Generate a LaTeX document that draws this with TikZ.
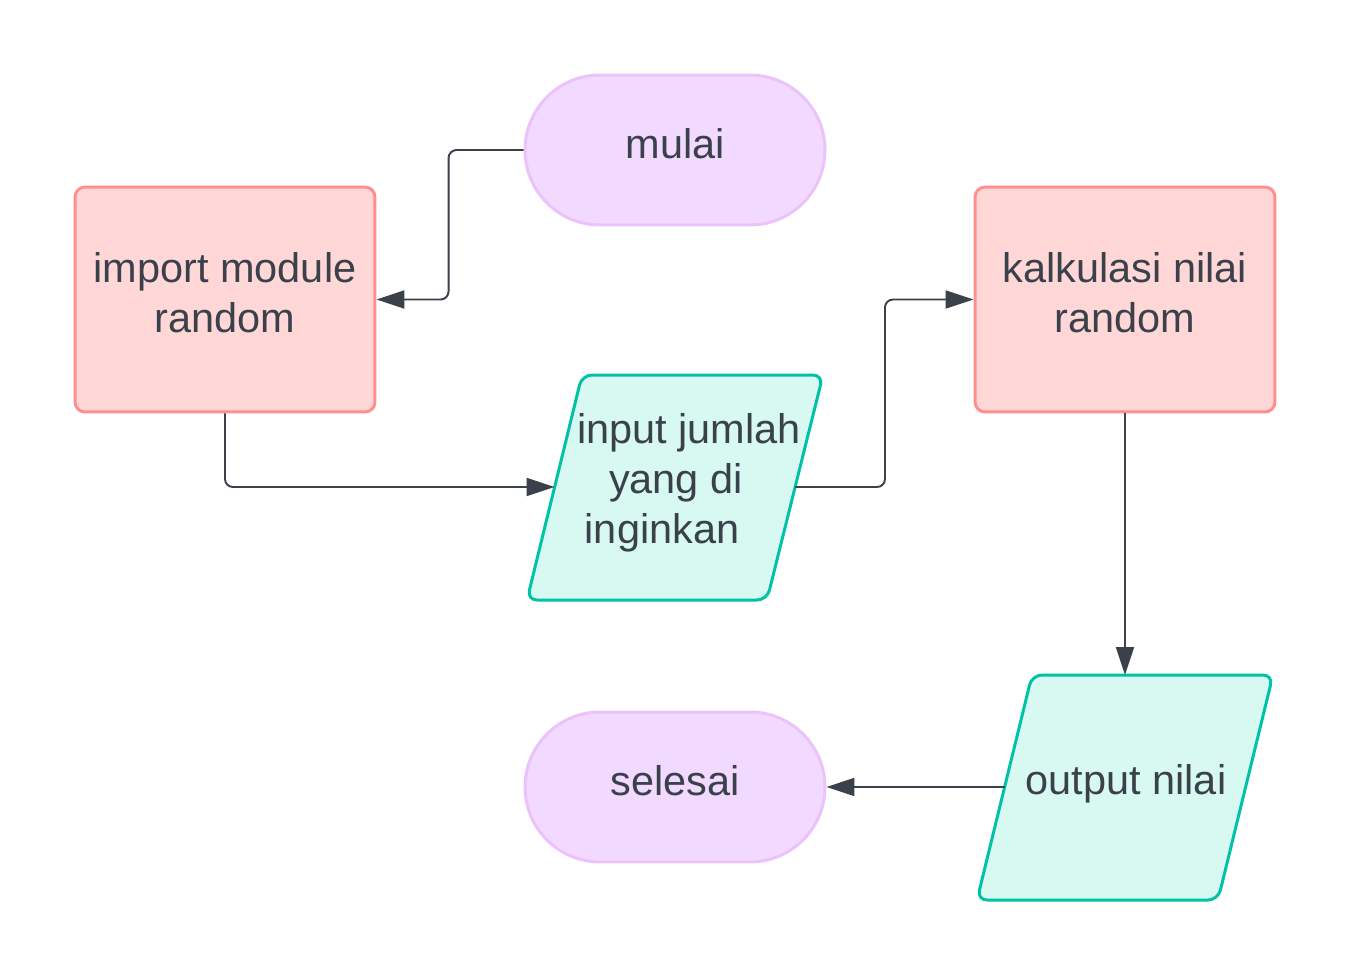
\documentclass[tikz,border=0pt]{standalone}
\usepackage{fontspec}
\setmainfont{Liberation Sans}
\usetikzlibrary{arrows.meta,shapes.misc}
\definecolor{ink}{HTML}{3A414A}
\definecolor{pinkfill}{HTML}{FFD7D7}
\definecolor{pinkline}{HTML}{FF8F8F}
\definecolor{purpfill}{HTML}{F2D9FF}
\definecolor{purpline}{HTML}{EBC2FA}
\definecolor{tealfill}{HTML}{D7F9F2}
\definecolor{tealline}{HTML}{00C2A6}
\tikzset{
  lbl/.style={text=ink, font=\fontsize{23.6pt}{28.45pt}\selectfont, align=center, inner sep=0pt},
  procbox/.style={rectangle, inner sep=0pt, rounded corners=0.2cm, draw=pinkline, fill=pinkfill, line width=1.7pt, minimum width=6cm, minimum height=4.5cm},
  termbox/.style={rounded rectangle, inner sep=0pt, draw=purpline, fill=purpfill, line width=1.7pt, minimum width=6cm, minimum height=3cm},
  iobox/.style={draw=tealline, fill=tealfill, line width=1.7pt, rounded corners=0.2cm, line join=round},
  conn/.style={draw=ink, line width=1.1pt, rounded corners=0.16cm, -{Triangle[length=0.56cm,width=0.36cm]}},
}
\begin{document}
\begin{tikzpicture}[x=0.02cm,y=-0.02cm]
\useasboundingbox (0,0) rectangle (1350,975);

% terminals
\node[termbox] (mulai) at (675,150) {};
\node[lbl] (mulaitxt) at (675,144) {mulai};
\node[termbox] (selesai) at (675,787) {};
\node[lbl] (selesaitxt) at (675,781) {selesai};

% processes
\node[procbox] (import) at (225,299.5) {};
\node[lbl] (importtxt) at (225,293) {import module\\random};
\node[procbox] (kalk) at (1125,299.5) {};
\node[lbl] (kalktxt) at (1125,293) {kalkulasi nilai\\random};

% input parallelogram
\path[iobox] (582,375) -- (823,375) -- (767,600) -- (527,600) -- cycle;
\coordinate (inW) at (554.5,487);
\coordinate (inE) at (795,487);
\node[lbl] (input) at (676,483) {\hspace*{0.52cm}input jumlah\\yang di\\inginkan\hspace*{0.56cm}};

% output parallelogram
\path[iobox] (1032,675) -- (1273,675) -- (1218,900) -- (977,900) -- cycle;
\coordinate (outN) at (1125,675);
\coordinate (outW) at (1004.5,787);
\node[lbl] (output) at (1126,784) {output nilai};

% connectors
\draw[conn] (mulai.west) -- ++(-75,0) |- (import.east);
\draw[conn] (import.south) |- (inW);
\draw[conn] (inE) -- ++(90,0) |- (kalk.west);
\draw[conn] (kalk.south) -- (outN);
\draw[conn] (outW) -- (selesai.east);
\end{tikzpicture}
\end{document}
